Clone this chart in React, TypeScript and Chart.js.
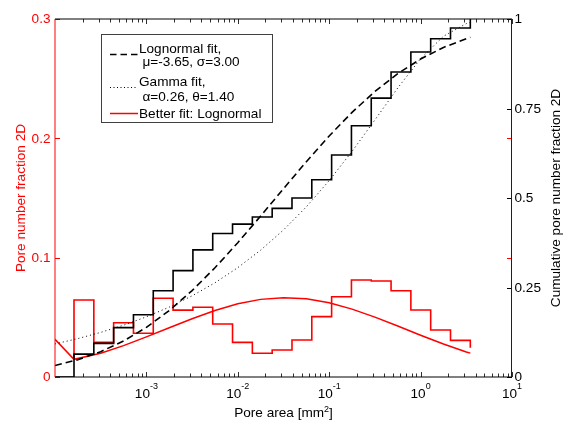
import React, { useEffect, useRef } from 'react';
import { Chart, registerables } from 'chart.js';

Chart.register(...registerables);

// ---------- data ----------
// histogram bin edges (pore area, mm^2), log-spaced
const binEdges = [
  1.614e-4, 2.66e-4, 4.381e-4, 7.218e-4, 1.189e-3, 1.959e-3, 3.227e-3, 5.316e-3,
  8.758e-3, 1.443e-2, 2.377e-2, 3.916e-2, 6.451e-2, 0.1063, 0.1751, 0.2884,
  0.4751, 0.7825, 1.289, 2.124, 3.499,
];
// pore number fraction per bin (left axis), stairs
const histStartY = 0.0158;
const numberFraction = [
  0.0645, 0.029, 0.0455, 0.0366, 0.066, 0.056, 0.0584, 0.0444, 0.029, 0.0199,
  0.0226, 0.031, 0.0506, 0.0673, 0.0813, 0.0805, 0.0723, 0.0562, 0.0394, 0.0307,
  0.0246,
];
// cumulative pore number fraction (right axis), stairs
const cumulativeStartX = 1e-4;
const cumulativeFraction = [
  0, 0.064, 0.094, 0.138, 0.174, 0.241, 0.297, 0.355, 0.401, 0.427, 0.447,
  0.471, 0.5, 0.551, 0.62, 0.702, 0.779, 0.852, 0.908, 0.945, 0.975, 1.0,
];
// fitted CDF curves (right axis)
const fitX = [
  1e-4, 1.778e-4, 3.162e-4, 5.623e-4, 1e-3, 1.778e-3, 3.162e-3, 5.623e-3, 1e-2,
  1.778e-2, 3.162e-2, 5.623e-2, 0.1, 0.1778, 0.3162, 0.5623, 1, 1.778, 3.162, 3.499,
];
const lognormalCdf = [
  0.0319, 0.0483, 0.0708, 0.1006, 0.1387, 0.1857, 0.2413, 0.305, 0.3752, 0.4496,
  0.526, 0.6015, 0.6733, 0.7392, 0.7976, 0.8473, 0.8882, 0.9205, 0.9452, 0.9489,
];
const gammaCdf = [
  0.0924, 0.1073, 0.1246, 0.1447, 0.1681, 0.1952, 0.2267, 0.2631, 0.3055, 0.3544,
  0.4108, 0.4753, 0.5487, 0.6302, 0.718, 0.8074, 0.8892, 0.9518, 0.9871, 0.9904,
];
// better-fit (lognormal) curve on the number-fraction axis
const redFitX = [
  1e-4, 1.614e-4, 3.162e-4, 5.623e-4, 1e-3, 1.778e-3, 3.162e-3, 5.623e-3, 1e-2,
  1.778e-2, 3.162e-2, 5.623e-2, 0.1, 0.1778, 0.3162, 0.5623, 1, 1.778, 3.162, 3.499,
];
const redFitY = [
  0.0316, 0.0148, 0.0199, 0.0263, 0.0336, 0.04125, 0.04885, 0.05575, 0.06135,
  0.06505, 0.0665, 0.0655, 0.0622, 0.0569, 0.0502, 0.0427, 0.035, 0.0276, 0.021, 0.02,
];

// axes / labels
const xTickExponents = [-3, -2, -1, 0, 1];
const leftTicks = [0, 0.1, 0.2, 0.3];
const leftTickLabels = ['0', '0.1', '0.2', '0.3'];
const rightTicks = [0, 0.25, 0.5, 0.75, 1];
const rightTickLabels = ['0', '0.25', '0.5', '0.75', '1'];
const xTitle = 'Pore area [mm';
const xTitleSup = '2';
const xTitleEnd = ']';
const leftTitle = 'Pore number fraction 2D';
const rightTitle = 'Cumulative pore number fraction 2D';
const legendLines = [
  'Lognormal fit,',
  'μ=-3.65, σ=3.00',
  'Gamma fit,',
  'α=0.26, θ=1.40',
  'Better fit: Lognormal',
];

const FF = '"Liberation Sans", Arial, Helvetica, sans-serif';
const f = (px: number) => `${px}px ${FF}`;
const RED = '#ff0000';
const FS = 13.6;
const SUP = 9;

const axesPlugin = {
  id: 'matlabAxes',
  afterDraw(chart: any) {
    const ctx: CanvasRenderingContext2D = chart.ctx;
    const xs = chart.scales.x;
    const yl = chart.scales.y;
    const yr = chart.scales.y2;
    const a = chart.chartArea;
    const L = a.left, R = a.right, T = a.top, B = a.bottom;
    ctx.save();

    // x ticks (bottom + top, inward)
    ctx.strokeStyle = '#303030';
    ctx.lineWidth = 1;
    const drawXTick = (v: number, len: number) => {
      const px = Math.round(xs.getPixelForValue(v)) + 0.5;
      ctx.beginPath();
      ctx.moveTo(px, B);
      ctx.lineTo(px, B - len);
      ctx.moveTo(px, T);
      ctx.lineTo(px, T + len);
      ctx.stroke();
    };
    for (let e = -4; e <= 0; e++) {
      for (let k = 2; k <= 9; k++) drawXTick(k * Math.pow(10, e), 3.5);
    }
    for (const e of xTickExponents) drawXTick(Math.pow(10, e), 5);

    // left ticks (red) on left and mirrored on right
    ctx.strokeStyle = RED;
    for (const v of leftTicks) {
      const py = Math.round(yl.getPixelForValue(v)) + 0.5;
      ctx.beginPath();
      ctx.moveTo(L, py);
      ctx.lineTo(L + 5, py);
      ctx.moveTo(R, py);
      ctx.lineTo(R - 5, py);
      ctx.stroke();
    }
    // right ticks (black)
    ctx.strokeStyle = '#000';
    for (const v of rightTicks) {
      const py = Math.round(yr.getPixelForValue(v)) + 0.5;
      ctx.beginPath();
      ctx.moveTo(R, py);
      ctx.lineTo(R - 5, py);
      ctx.stroke();
    }

    // spines
    ctx.lineWidth = 1;
    ctx.strokeStyle = '#000';
    ctx.beginPath();
    ctx.moveTo(L, B);
    ctx.lineTo(R, B);
    ctx.moveTo(L, T);
    ctx.lineTo(R, T);
    ctx.stroke();
    ctx.strokeStyle = RED;
    ctx.beginPath();
    ctx.moveTo(L, T);
    ctx.lineTo(L, B);
    ctx.stroke();
    ctx.strokeStyle = '#202020';
    ctx.beginPath();
    ctx.moveTo(R - 0.5, T);
    ctx.lineTo(R - 0.5, B);
    ctx.stroke();

    // left tick labels
    ctx.font = f(FS);
    ctx.fillStyle = RED;
    ctx.textAlign = 'right';
    ctx.textBaseline = 'middle';
    leftTicks.forEach((v, i) => {
      ctx.fillText(leftTickLabels[i], L - 4.5, yl.getPixelForValue(v) + 0.5);
    });
    // right tick labels
    ctx.fillStyle = '#000';
    ctx.textAlign = 'left';
    rightTicks.forEach((v, i) => {
      ctx.fillText(rightTickLabels[i], R + 2.5, yr.getPixelForValue(v) + 0.5);
    });

    // x tick labels 10^e
    ctx.textBaseline = 'alphabetic';
    for (const e of xTickExponents) {
      const px = xs.getPixelForValue(Math.pow(10, e));
      ctx.font = f(FS);
      const w1 = ctx.measureText('10').width;
      ctx.font = f(SUP);
      const sup = String(e);
      const w2 = ctx.measureText(sup).width;
      const start = px - (w1 + w2) / 2;
      ctx.font = f(FS);
      ctx.fillText('10', start, 397.5);
      ctx.font = f(SUP);
      ctx.fillText(sup, start + w1, 388.5);
    }

    // x title with superscript
    {
      ctx.font = f(FS);
      const w1 = ctx.measureText(xTitle).width;
      const w3 = ctx.measureText(xTitleEnd).width;
      ctx.font = f(SUP);
      const w2 = ctx.measureText(xTitleSup).width;
      const cx = (L + R) / 2;
      const s = cx - (w1 + w2 + w3) / 2;
      ctx.font = f(FS);
      ctx.fillText(xTitle, s, 417);
      ctx.font = f(SUP);
      ctx.fillText(xTitleSup, s + w1, 411.5);
      ctx.font = f(FS);
      ctx.fillText(xTitleEnd, s + w1 + w2, 417);
    }

    // y titles (both read bottom-to-top)
    ctx.textAlign = 'center';
    ctx.font = f(FS);
    ctx.save();
    ctx.translate(25.3, (T + B) / 2);
    ctx.rotate(-Math.PI / 2);
    ctx.fillStyle = RED;
    ctx.fillText(leftTitle, 0, 0);
    ctx.restore();
    ctx.save();
    ctx.translate(560, (T + B) / 2);
    ctx.rotate(-Math.PI / 2);
    ctx.fillStyle = '#000';
    ctx.fillText(rightTitle, 0, 0);
    ctx.restore();

    // legend
    ctx.fillStyle = '#fff';
    ctx.fillRect(101.5, 34.5, 171, 88);
    ctx.strokeStyle = '#404040';
    ctx.lineWidth = 1;
    ctx.strokeRect(101.5, 34.5, 171, 88);
    ctx.lineWidth = 1.6;
    ctx.strokeStyle = '#000';
    ctx.setLineDash([6.5, 4]);
    ctx.beginPath();
    ctx.moveTo(110, 54.5);
    ctx.lineTo(138, 54.5);
    ctx.stroke();
    ctx.lineWidth = 1;
    ctx.setLineDash([1, 2.5]);
    ctx.beginPath();
    ctx.moveTo(110, 87.5);
    ctx.lineTo(138, 87.5);
    ctx.stroke();
    ctx.setLineDash([]);
    ctx.lineWidth = 1.5;
    ctx.strokeStyle = RED;
    ctx.beginPath();
    ctx.moveTo(110, 113.5);
    ctx.lineTo(138, 113.5);
    ctx.stroke();

    ctx.fillStyle = '#000';
    ctx.textAlign = 'left';
    ctx.textBaseline = 'alphabetic';
    ctx.font = f(FS);
    const rows: [number, number][] = [
      [139, 52.7],
      [142.5, 66],
      [139, 85.5],
      [142.5, 100.7],
      [139, 118],
    ];
    legendLines.forEach((t, i) => ctx.fillText(t, rows[i][0], rows[i][1]));

    ctx.restore();
  },
};

export default function App() {
  const ref = useRef<HTMLCanvasElement | null>(null);
  useEffect(() => {
    if (!ref.current) return;
    const cumX = [cumulativeStartX, ...binEdges];
    const histX = [binEdges[0], ...binEdges];
    const histY = [histStartY, ...numberFraction];
    const chart = new Chart(ref.current, {
      type: 'line',
      data: {
        datasets: [
          {
            label: 'Cumulative',
            data: cumX.map((x, i) => ({ x, y: cumulativeFraction[i] })),
            yAxisID: 'y2',
            borderColor: '#000',
            borderWidth: 1.6,
            stepped: true,
            pointRadius: 0,
            order: 0,
          },
          {
            label: 'Lognormal fit',
            data: fitX.map((x, i) => ({ x, y: lognormalCdf[i] })),
            yAxisID: 'y2',
            borderColor: '#000',
            borderWidth: 1.6,
            borderDash: [7, 4],
            pointRadius: 0,
            order: 1,
          },
          {
            label: 'Gamma fit',
            data: fitX.map((x, i) => ({ x, y: gammaCdf[i] })),
            yAxisID: 'y2',
            borderColor: '#000',
            borderWidth: 1,
            borderDash: [1, 3],
            pointRadius: 0,
            order: 2,
          },
          {
            label: 'Number fraction',
            data: histX.map((x, i) => ({ x, y: histY[i] })),
            yAxisID: 'y',
            borderColor: RED,
            borderWidth: 1.6,
            stepped: true,
            pointRadius: 0,
            order: 3,
          },
          {
            label: 'Better fit: Lognormal',
            data: redFitX.map((x, i) => ({ x, y: redFitY[i] })),
            yAxisID: 'y',
            borderColor: RED,
            borderWidth: 1.5,
            pointRadius: 0,
            order: 4,
          },
        ],
      },
      options: {
        responsive: false,
        devicePixelRatio: 1,
        animation: false,
        layout: { padding: { left: 55, right: 52, top: 19, bottom: 49 } },
        scales: {
          x: { type: 'logarithmic', min: 1e-4, max: 10, display: false },
          y: { type: 'linear', position: 'left', min: 0, max: 0.3, display: false },
          y2: { type: 'linear', position: 'right', min: 0, max: 1, display: false },
        },
        plugins: { legend: { display: false }, tooltip: { enabled: false } },
        elements: { line: { tension: 0 } },
      },
      plugins: [axesPlugin],
    } as any);
    return () => chart.destroy();
  }, []);
  return (
    <div style={{ position: 'absolute', left: 0, top: 0, width: 564, height: 426, background: '#fff' }}>
      <canvas ref={ref} width={564} height={426} style={{ display: 'block' }} />
    </div>
  );
}
